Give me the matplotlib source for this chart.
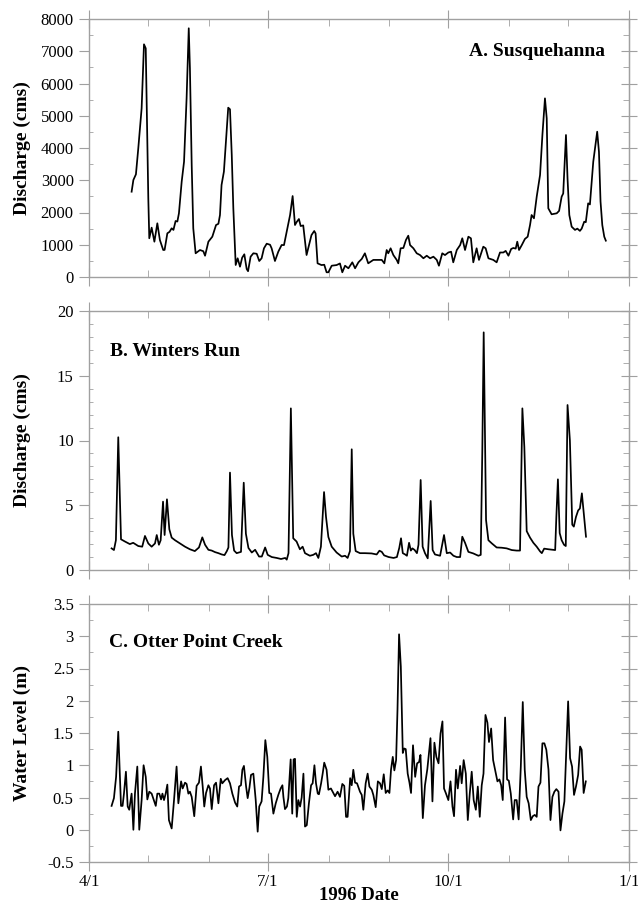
import matplotlib
matplotlib.use("Agg")
import matplotlib.pyplot as plt
from matplotlib.ticker import MultipleLocator, FormatStrFormatter

plt.rcParams['font.family'] = ['Liberation Serif', 'DejaVu Serif']

# days counted from 4/1/1996
month_ticks = [0, 91, 183, 275]
month_labels = ['4/1', '7/1', '10/1', '1/1']
month_minor = [30, 61, 122, 153, 214, 244]

# A. Susquehanna discharge (cms)
susq_day = [21.7, 22.6, 23.9, 25.1, 26.8, 28.0, 28.9, 29.4, 30.2, 30.7, 31.9, 33.3, 34.8, 36.1,
            37.8, 38.5, 39.9, 41.0, 42.1, 43.0, 44.1, 45.0, 45.8, 47.2, 48.4, 49.7, 50.8, 51.4,
            52.3, 53.1, 54.3, 56.5, 58.2, 59.1, 60.8, 62.8, 64.7, 65.9, 66.7, 67.5, 68.7, 69.6,
            70.9, 71.8, 72.7, 73.5, 74.7, 75.7, 76.9, 78.0, 79.1, 80.3, 81.0, 82.3, 83.7, 85.4,
            86.7, 87.9, 89.1, 90.5, 92.2, 93.0, 94.7, 96.4, 98.1, 99.3, 100.7, 102.4, 103.7,
            104.9, 105.7, 106.9, 107.8, 109.1, 110.8, 113.3, 114.7, 115.4, 116.4, 118.4, 119.8,
            121.0, 121.9, 123.6, 126.1, 127.8, 129.0, 130.4, 132.1, 133.3, 134.1, 135.5, 137.2,
            138.9, 140.5, 142.2, 144.8, 147.4, 149.1, 150.4, 151.6, 152.4, 153.6, 155.0, 156.7,
            157.5, 158.7, 160.1, 161.4, 162.6, 163.5, 165.2, 166.9, 168.6, 170.3, 172.0, 173.7,
            175.4, 177.1, 178.2, 179.9, 181.3, 183.0, 184.4, 185.5, 187.3, 189.0, 190.1, 191.5,
            193.2, 194.5, 195.7, 197.4, 198.6, 200.8, 202.0, 203.4, 205.9, 207.6, 209.3, 211.0,
            212.2, 213.6, 215.0, 216.1, 217.3, 218.1, 219.0, 220.4, 222.0, 223.4, 224.6, 225.4,
            226.6, 228.0, 229.7, 230.9, 232.2, 233.1, 233.9, 235.6, 238.2, 239.4, 240.7, 241.5,
            242.9, 243.7, 244.6, 245.8, 247.5, 248.7, 250.0, 250.9, 252.2, 253.0, 254.2, 255.1,
            256.8, 258.8, 259.7, 260.5, 261.4, 262.4, 263.2]
susq_q = [2645, 3008, 3184, 3990, 5230, 7215, 7090, 5333, 2440, 1200, 1530, 1095, 1665, 1147,
          837, 840, 1355, 1400, 1510, 1460, 1736, 1720, 1975, 2955, 3575, 5540, 7712, 6470,
          3473, 1510, 735, 837, 800, 660, 1095, 1250, 1612, 1650, 1922, 2853, 3266, 4093,
          5250, 5200, 3783, 2130, 372, 580, 320, 600, 704, 248, 180, 630, 735, 720,
          496, 580, 890, 1033, 1000, 890, 496, 785, 992, 990, 1405, 1922, 2511,
          1612, 1700, 1798, 1580, 1600, 682, 1300, 1426, 1350, 424, 370, 380,
          146, 146, 350, 370, 420, 146, 350, 270, 380, 455, 270, 455,
          560, 735, 424, 530, 530, 530, 424, 837, 735, 890, 680, 530,
          424, 890, 900, 1147, 1281, 990, 890, 735, 680, 580, 660, 580,
          630, 530, 350, 735, 680, 760, 785, 455, 837, 990, 1200, 837,
          1250, 1200, 455, 890, 530, 940, 890, 580, 530, 455, 760, 760,
          810, 660, 870, 900, 880, 1095, 837, 990, 1180, 1250, 1612, 1922,
          1820, 2490, 3163, 4403, 5540, 4920, 2130, 1944, 1975, 2050, 2490, 2590,
          4403, 3050, 1922, 1560, 1460, 1500, 1430, 1500, 1715, 1700, 2285, 2250,
          3575, 4506, 3880, 2340, 1610, 1250, 1126]

# B. Winters Run discharge (cms)
wint_day = [11.5, 12.7, 13.7, 14.9, 15.7, 16.3, 18.3, 20.8, 22.5, 25.1, 27.1, 28.5, 30.2, 31.9,
            33.6, 34.5, 35.6, 36.5, 37.7, 38.5, 39.7, 40.9, 42.1, 43.8, 46.3, 48.9, 51.4, 53.9,
            56.0, 57.7, 59.1, 60.8, 62.5, 64.2, 65.9, 67.6, 69.0, 70.2, 71.0, 71.8, 72.8, 73.9,
            75.2, 77.4, 78.8, 79.9, 81.2, 82.9, 84.6, 86.6, 88.0, 89.7, 91.0, 93.1, 95.6, 97.8,
            99.9, 100.7, 101.6, 102.8, 104.0, 105.7, 107.4, 108.8, 110.0, 112.5, 114.2, 115.6,
            116.8, 118.1, 119.7, 120.7, 121.9, 123.6, 126.1, 128.7, 130.4, 131.7, 132.9, 133.8,
            134.6, 135.8, 138.0, 140.5, 143.9, 146.5, 147.9, 149.1, 150.3, 152.6, 155.1, 156.8,
            158.0, 158.9, 159.8, 161.0, 161.9, 163.0, 163.9, 164.7, 165.8, 167.0, 167.8, 168.9,
            169.9, 171.1, 172.5, 174.0, 175.0, 176.2, 178.8, 180.8, 182.2, 183.9, 185.6, 187.3,
            189.0, 190.1, 191.5, 193.2, 195.7, 198.3, 199.5, 200.3, 201.0, 201.7, 202.2, 203.4,
            205.1, 207.6, 210.2, 212.7, 215.3, 217.8, 219.5, 220.7, 221.7, 222.9, 224.6, 226.3,
            228.0, 229.7, 230.6, 231.8, 234.0, 237.4, 238.0, 238.8, 239.7, 240.7, 241.9, 242.8,
            243.7, 244.9, 246.1, 246.9, 248.0, 249.1, 250.0, 251.0, 252.0, 253.1]
wint_q = [1.67, 1.54, 2.3, 10.25, 5.9, 2.37, 2.2, 2.0, 2.1, 1.85, 1.8, 2.63, 2.05, 1.8,
          2.05, 2.7, 1.95, 2.3, 5.28, 2.7, 5.46, 3.15, 2.5, 2.3, 2.05, 1.8, 1.6, 1.46,
          1.74, 2.52, 1.95, 1.56, 1.5, 1.38, 1.3, 1.2, 1.15, 1.46, 1.74, 7.52, 2.7, 1.5,
          1.3, 1.4, 6.74, 2.8, 1.7, 1.35, 1.56, 1.04, 1.04, 1.74, 1.17, 1.0, 0.93, 0.85,
          0.93, 0.8, 1.3, 12.48, 2.45, 2.2, 1.6, 1.8, 1.3, 1.1, 1.17, 1.3,
          0.93, 1.8, 6.02, 4.1, 2.55, 1.8, 1.35, 1.04, 1.1, 0.93, 1.46, 9.32,
          2.8, 1.46, 1.3, 1.3, 1.28, 1.2, 1.49, 1.4, 1.13, 1.0, 0.93, 1.0,
          1.7, 2.45, 1.3, 1.2, 1.1, 2.1, 1.5, 1.67, 1.55, 1.3, 1.95, 6.95,
          1.8, 1.3, 0.9, 5.33, 1.54, 1.2, 1.1, 2.7, 1.3, 1.35, 1.1, 1.0,
          1.0, 2.57, 2.1, 1.4, 1.28, 1.1, 1.17, 9.27, 18.35, 9.77, 3.86, 2.3,
          2.06, 1.74, 1.72, 1.67, 1.54, 1.5, 1.5, 12.48, 9.5, 3.0, 2.5, 2.1,
          1.8, 1.44, 1.3, 1.65, 1.6, 1.54, 4.1, 7.0, 2.85, 2.3, 1.95, 1.85,
          12.74, 10.0, 3.5, 3.35, 4.1, 4.6, 4.75, 5.92, 4.35, 2.57]

# C. Otter Point Creek water level (m)
otter_day = [11.5, 12.7, 13.8, 14.9, 15.8, 16.3, 17.1, 17.8, 18.8, 19.7, 20.5, 21.7, 22.6, 23.4,
             24.6, 25.6, 26.8, 27.8, 28.9, 29.7, 30.7, 31.9, 34.0, 34.8, 35.8, 36.7, 37.4, 38.2,
             39.05, 39.9, 40.7, 42.1, 43.3, 44.6, 45.5, 46.9, 47.7, 48.9, 49.7, 50.6, 51.4, 52.3,
             53.6, 54.8, 56.0, 57.0, 57.9, 58.7, 59.6, 60.8, 61.6, 62.5, 63.7, 64.7, 65.9, 67.1,
             67.9, 69.3, 70.6, 71.8, 73.0, 74.4, 75.5, 76.4, 77.4, 78.1, 78.9, 80.0, 80.8, 81.7,
             82.5, 83.7, 84.9, 85.9, 86.7, 87.9, 88.8, 89.8, 90.8, 91.8, 92.7, 93.9, 95.1, 96.4,
             97.6, 98.5, 99.0, 99.8, 100.8, 101.5, 102.7, 103.5, 104.2, 104.9, 105.8, 106.6,
             107.5, 108.3, 109.2, 110.0, 110.9, 112.0, 113.1, 113.9, 114.8, 115.6, 116.5, 117.1,
             118.2, 119.0, 119.8, 121.0, 121.9, 123.2, 124.1, 125.3, 126.6, 127.8, 129.0, 130.0,
             130.9, 131.7, 133.0, 133.8, 134.6, 135.5, 136.5, 138.0, 138.9, 139.7, 140.9, 141.9,
             142.8, 144.0, 144.8, 146.0, 147.1, 148.2, 149.1, 150.1, 151.1, 152.1, 153.0, 153.8,
             154.7, 155.5, 156.4, 157.1, 157.9, 158.8, 159.8, 160.5, 161.3, 162.3, 163.2, 164.0,
             165.0, 166.1, 167.1, 168.1, 168.8, 170.0, 171.1, 172.3, 173.9, 174.9, 175.9, 176.9,
             178.0, 179.0, 180.0, 180.8, 181.7, 183.0, 184.1, 185.1, 185.9, 186.9, 187.8, 189.0,
             189.8, 190.8, 191.9, 192.9, 193.9, 194.9, 195.9, 197.0, 198.0, 199.0, 200.0, 200.9,
             201.9, 202.9, 203.7, 204.8, 205.8, 206.8, 208.0, 209.0, 209.9, 210.7, 211.9, 212.9,
             213.8, 214.8, 216.0, 216.8, 217.8, 218.8, 219.9, 220.9, 221.9, 222.9, 223.9, 225.0,
             226.0, 227.0, 228.0, 228.9, 229.9, 230.9, 231.9, 232.9, 234.0, 235.0, 236.0, 237.0,
             238.0, 239.1, 240.1, 241.1, 242.1, 243.1, 244.0, 245.0, 246.0, 247.0, 248.0, 249.1,
             250.1, 250.9, 251.9, 253.0]
otter_lvl = [0.37, 0.49, 0.82, 1.52, 0.77, 0.37, 0.37, 0.56, 0.90, 0.36, 0.31, 0.56, 0.0, 0.56,
             0.98, 0.0, 0.46, 1.0, 0.82, 0.47, 0.59, 0.56, 0.37, 0.56, 0.56, 0.47, 0.56, 0.46,
             0.56, 0.70, 0.15, 0.02, 0.46, 0.98, 0.41, 0.75, 0.64, 0.73, 0.71, 0.56, 0.59, 0.51,
             0.21, 0.68, 0.73, 0.98, 0.67, 0.36, 0.57, 0.69, 0.64, 0.32, 0.69, 0.73, 0.41, 0.79,
             0.72, 0.77, 0.80, 0.72, 0.56, 0.42, 0.36, 0.67, 0.69, 0.93, 0.99, 0.67, 0.49, 0.65,
             0.85, 0.87, 0.46, -0.03, 0.36, 0.44, 0.82, 1.39, 1.13, 0.57, 0.56, 0.25, 0.41, 0.54,
             0.64, 0.69, 0.51, 0.32, 0.36, 0.49, 1.09, 0.25, 1.09, 1.10, 0.20, 0.46,
             0.36, 0.50, 0.87, 0.05, 0.07, 0.41, 0.69, 0.72, 1.0, 0.72, 0.56, 0.55,
             0.72, 0.87, 1.04, 0.93, 0.62, 0.64, 0.59, 0.52, 0.59, 0.51, 0.71, 0.68,
             0.20, 0.20, 0.80, 0.69, 0.93, 0.73, 0.72, 0.59, 0.54, 0.31, 0.72, 0.87,
             0.67, 0.62, 0.54, 0.35, 0.75, 0.72, 0.63, 0.86, 0.57, 0.61, 0.57, 0.93,
             1.13, 0.92, 1.08, 1.86, 3.03, 2.53, 1.19, 1.26, 1.25, 0.87, 0.73, 0.57,
             1.31, 0.82, 1.03, 1.05, 1.16, 0.18, 0.69, 0.94, 1.42, 0.44, 1.35, 1.13,
             1.03, 1.49, 1.68, 0.64, 0.57, 0.46, 0.75, 0.36, 0.21, 0.93, 0.64, 0.99,
             0.72, 1.08, 0.87, 0.15, 0.56, 0.90, 0.46, 0.31, 0.67, 0.20, 0.69, 0.87,
             1.78, 1.66, 1.36, 1.57, 1.08, 0.93, 0.75, 0.78, 0.69, 0.46, 1.74, 0.78,
             0.76, 0.56, 0.16, 0.46, 0.46, 0.16, 0.98, 1.98, 0.93, 0.51, 0.41, 0.15,
             0.21, 0.23, 0.20, 0.67, 0.73, 1.34, 1.34, 1.24, 0.93, 0.15, 0.51, 0.59,
             0.63, 0.59, -0.01, 0.25, 0.44, 1.24, 1.99, 1.11, 0.98, 0.54, 0.67, 0.85,
             1.29, 1.24, 0.57, 0.75]

spine_col = '#a0a0a0'
W, H = 638, 909
left, right = 89 / W, 629 / W

fig = plt.figure(figsize=(W / 100, H / 100), dpi=100)


def make_panel(top_px, bot_px, days, vals, ylim, major, minor, fmt, ylabel, title, tx, ty, ha):
    ax = fig.add_axes([left, 1 - bot_px / H, right - left, (bot_px - top_px) / H])
    ax.plot(days, vals, color='black', lw=1.25)
    ax.set_xlim(0, 275)
    ax.set_ylim(*ylim)
    for s in ax.spines.values():
        s.set_color(spine_col)
        s.set_linewidth(1.0)
    ax.set_xticks(month_ticks)
    ax.set_xticks(month_minor, minor=True)
    ax.tick_params(axis='x', which='major', direction='inout', length=13, color=spine_col,
                   top=True, bottom=True, labelsize=12, pad=2)
    ax.tick_params(axis='x', which='minor', direction='in', length=5, color=spine_col,
                   top=True, bottom=True)
    ax.yaxis.set_major_locator(MultipleLocator(major))
    ax.yaxis.set_minor_locator(MultipleLocator(minor))
    ax.yaxis.set_major_formatter(FormatStrFormatter(fmt))
    ax.tick_params(axis='y', which='major', direction='out', length=7, color=spine_col,
                   labelsize=12, pad=4)
    ax.tick_params(axis='y', which='minor', direction='in', length=3, color=spine_col)
    # right side ticks cross the frame, left ones point outward
    sec = ax.secondary_yaxis('right')
    sec.yaxis.set_major_locator(MultipleLocator(major))
    sec.yaxis.set_minor_locator(MultipleLocator(minor))
    sec.tick_params(axis='y', which='major', direction='inout', length=12, color=spine_col,
                    labelright=False)
    sec.tick_params(axis='y', which='minor', direction='in', length=4, color=spine_col)
    sec.spines['right'].set_color(spine_col)
    ax.set_ylabel(ylabel, fontsize=14, fontweight='bold')
    ax.yaxis.set_label_coords(-0.108, 0.5)
    ax.text(tx, ty, title, transform=ax.transAxes, fontsize=14, fontweight='bold',
            ha=ha, va='center')
    return ax


axA = make_panel(19, 277, susq_day, susq_q, (0, 8000), 1000, 500, '%d',
                 'Discharge (cms)', 'A. Susquehanna', 0.955, 0.875, 'right')
axA.set_xticklabels([])
axB = make_panel(311, 570, wint_day, wint_q, (0, 20), 5, 1, '%d',
                 'Discharge (cms)', 'B. Winters Run', 0.039, 0.843, 'left')
axB.set_xticklabels([])
axC = make_panel(604, 862, otter_day, otter_lvl, (-0.5, 3.5), 0.5, 0.25, '%g',
                 'Water Level (m)', 'C. Otter Point Creek', 0.037, 0.849, 'left')
axC.set_xticklabels(month_labels)
axC.set_xlabel('1996 Date', fontsize=13.5, fontweight='bold', labelpad=-2)

fig.savefig('out.png', dpi=100)
